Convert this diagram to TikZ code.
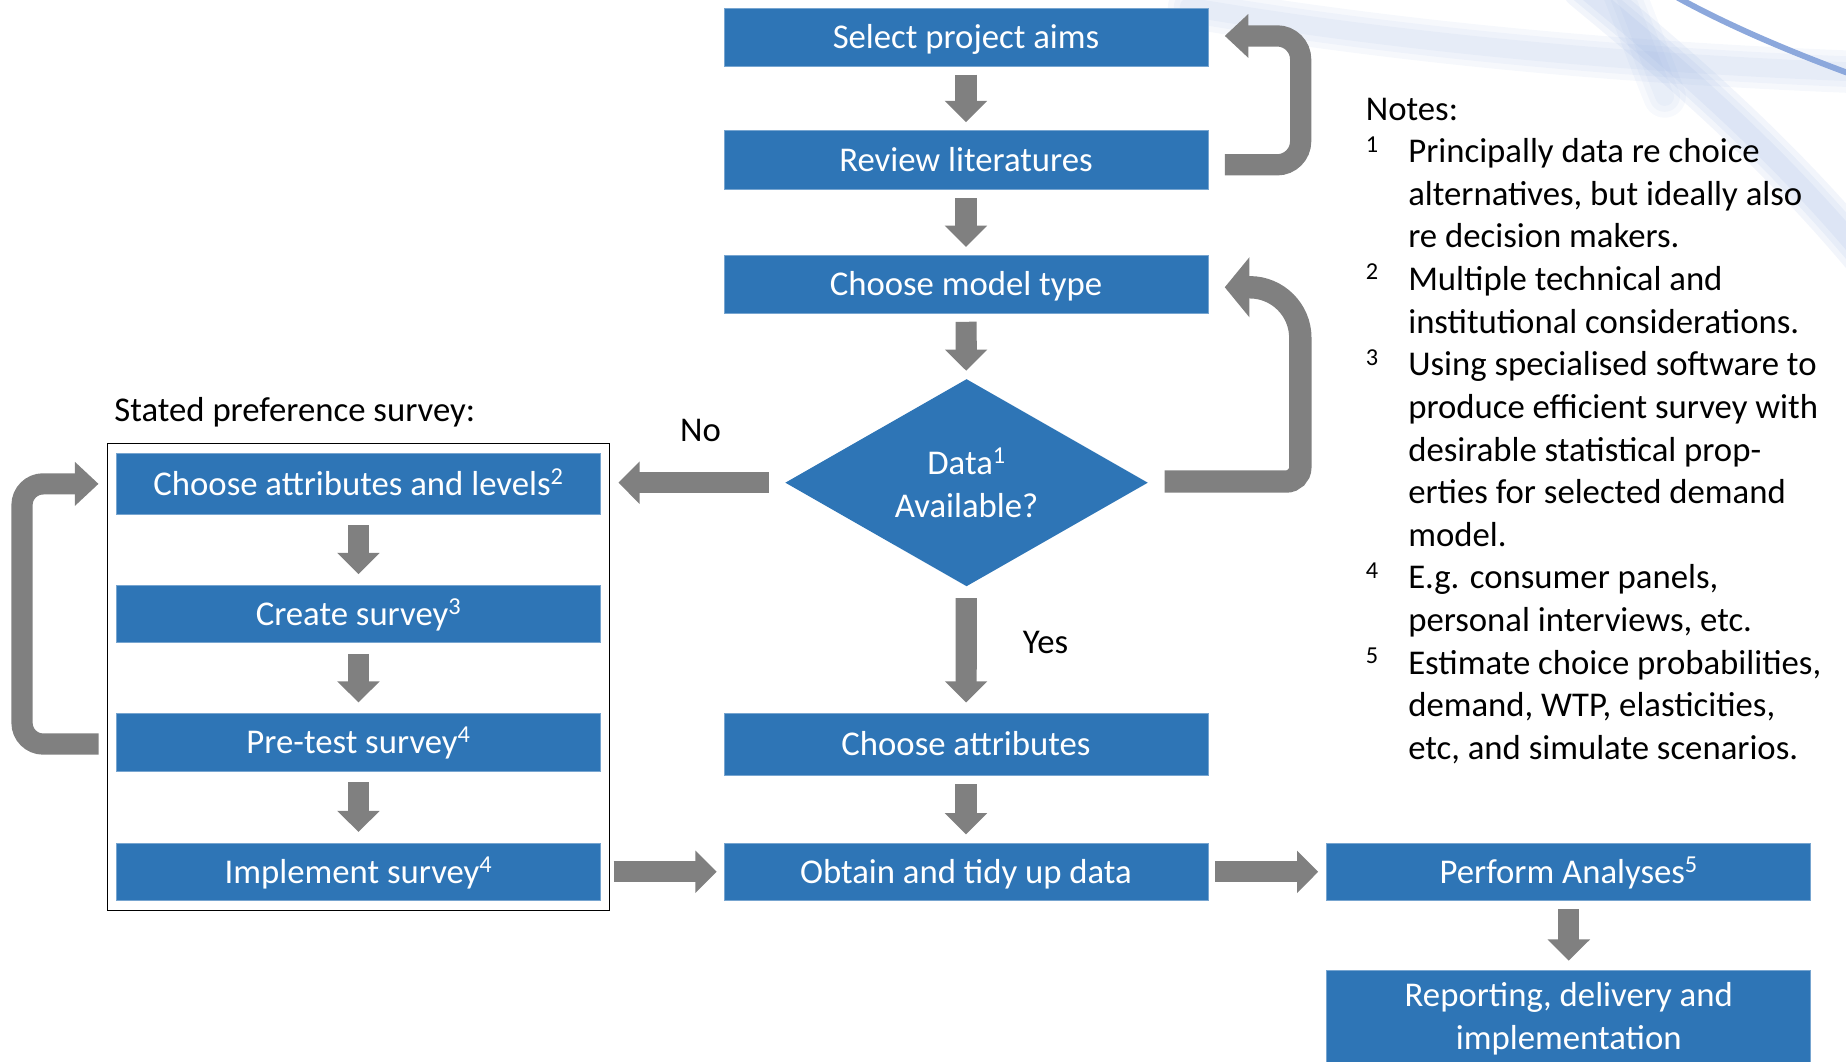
\documentclass[tikz,border=0pt]{standalone}
\usepackage{fontspec}
\setmainfont{Carlito}
\usepackage{tikz}
\usetikzlibrary{arrows.meta}
\usetikzlibrary{calc}
\usetikzlibrary{positioning, shapes.geometric, fit}

\definecolor{boxblue}{RGB}{46,117,182}
\definecolor{arrgray}{RGB}{128,128,128}
\definecolor{swirl}{RGB}{140,168,220}

\newcommand{\txtsize}{\fontsize{29.5}{36.2}\selectfont}
\newcommand{\nnum}[1]{\makebox[36pt][l]{\textsuperscript{#1}}}

\tikzset{
  stepbox/.style={fill=boxblue, draw=boxblue!65!white, line width=0.6pt, text=white,
    minimum width=411pt, minimum height=49pt, inner sep=0pt, font=\txtsize,
    text height=25pt, text depth=5.8pt},
  twoline/.style={align=center, text height=, text depth=},
  decide/.style={diamond, aspect=1.75, fill=boxblue, text=white, minimum width=308pt,
    minimum height=176pt, inner sep=0pt, align=center, font=\txtsize},
  flowarr/.style={draw=arrgray, line width=18pt, -{Triangle[width=35pt,length=18pt]},
    shorten <=7pt, shorten >=7pt},
  looparr/.style={draw=arrgray, line width=18pt, -{Triangle[width=36pt,length=20pt]},
    rounded corners=20pt},
  bigloop/.style={draw=arrgray, line width=19pt, -{Triangle[width=50pt,length=21pt]},
    rounded corners=12pt},
  plain/.style={text=black, inner sep=0pt, font=\txtsize},
}

\begin{document}
\begin{tikzpicture}[x=1pt, y=-1pt]

\def\colL{304.5}
\def\colM{820.5}
\def\colR{1332.5}

\useasboundingbox (0,0) rectangle (1568,902);
\clip (0,0) rectangle (1568,902);

% Background swirls
\begin{scope}[line cap=round]
  \foreach \w in {36,26,16} {
    \draw[swirl, line width=\w pt, opacity=0.08] (1010,6) .. controls (1200,38) and (1400,55) .. (1600,62);
    \draw[swirl, line width=\w pt, opacity=0.11] (1345,-10) .. controls (1430,60) and (1510,130) .. (1585,220);
    \draw[swirl, line width=\w pt, opacity=0.07] (1378,-10) .. controls (1392,25) and (1403,55) .. (1414,82);
  }
  \draw[swirl, line width=5pt] (1425,-2) .. controls (1465,20) and (1515,42) .. (1575,64);
\end{scope}

% Main column
\node[stepbox] (sel) at (\colM,31.5) {Select project aims};
\node[stepbox, minimum height=50pt] (rev) at (\colM,136) {Review literatures};
\node[stepbox] (mod) at (\colM,241.5) {Choose model type};
\node[decide] (dat) at (821,410) {Data\textsuperscript{1}\\Available?};
\node[stepbox, minimum height=53pt] (cha) at (\colM,632.5) {Choose attributes};
\node[stepbox] (obt) at (\colM,740.5) {Obtain and tidy up data};

% Stated preference survey
\node[stepbox, minimum height=52pt] (lev) at (\colL,411) {Choose attributes and levels\textsuperscript{2}};
\node[stepbox] (cre) at (\colL,521.5) {Create survey\textsuperscript{3}};
\node[stepbox] (pre) at (\colL,630.5) {Pre-test survey\textsuperscript{4}};
\node[stepbox] (imp) at (\colL,740.5) {Implement survey\textsuperscript{4}};
\node[draw=black, line width=1.4pt, fit=(lev)(imp), inner xsep=7.5pt, inner ysep=8pt] (spbox) {};
\node[plain, anchor=west] (splab) at (97,350) {Stated preference survey:};

% Analysis column
\node[stepbox] (per) at (\colR,740.5) {Perform Analyses\textsuperscript{5}};
\node[stepbox, twoline, minimum height=82pt, anchor=north] (rep) at (\colR,824) {Reporting, delivery and\\implementation};

% Labels
\node[plain] (nolab) at (595,366) {No};
\node[plain] (yeslab) at (888,546) {Yes};

% Notes (anchored on the baseline of the last line)
\node[plain, anchor=base west, align=left] (notes) at (1160,645) {Notes:\\
\nnum{1}Principally data re choice\\
\hspace*{36pt}alternatives, but ideally also\\
\hspace*{36pt}re decision makers.\\
\nnum{2}Multiple technical and\\
\hspace*{36pt}institutional considerations.\\
\nnum{3}Using specialised software to\\
\hspace*{36pt}produce efficient survey with\\
\hspace*{36pt}desirable statistical prop-\\
\hspace*{36pt}erties for selected demand\\
\hspace*{36pt}model.\\
\nnum{4}E.g. consumer panels,\\
\hspace*{36pt}personal interviews, etc.\\
\nnum{5}Estimate choice probabilities,\\
\hspace*{36pt}demand, WTP, elasticities,\\
\hspace*{36pt}etc, and simulate scenarios.};

% Straight arrows
\draw[flowarr] (sel) -- (rev);
\draw[flowarr] (rev) -- (mod);
\draw[flowarr] (mod) -- (dat);
\draw[flowarr, shorten <=10pt, shorten >=9pt] (dat) -- (cha);
\draw[flowarr] (cha) -- (obt);
\draw[flowarr, shorten <=9pt, shorten >=9pt] (lev) -- (cre);
\draw[flowarr, shorten <=9pt, shorten >=9pt] (cre) -- (pre);
\draw[flowarr, shorten <=9pt, shorten >=9pt] (pre) -- (imp);
\draw[flowarr, shorten <=7pt, shorten >=8pt] (per) -- (rep);
\draw[flowarr, shorten <=14pt, shorten >=15pt] (dat.west) -- (dat.west -| lev.east);
\draw[flowarr, shorten <=11pt, shorten >=6pt] (imp) -- (obt);
\draw[flowarr, shorten <=6pt, shorten >=7pt] (obt) -- (per);

% Loop arrows
\draw[looparr] ([xshift=14pt,yshift=-4pt]rev.east) -- ++(64.5,0) |- ([xshift=14pt,yshift=1pt]sel.east);
\draw[looparr, rounded corners=18pt] ([xshift=-15pt,yshift=-1.5pt]pre.west) -- ++(-65,0) |- ([xshift=-15pt]lev.west);
\draw[bigloop] ([xshift=14pt,yshift=1pt]dat.east) -- (1104.5,409) -- (1104.5,330)
  [rounded corners=43pt] -- (1104.5,244) -- ([xshift=14pt,yshift=-2.5pt]mod.east);

\end{tikzpicture}
\end{document}
